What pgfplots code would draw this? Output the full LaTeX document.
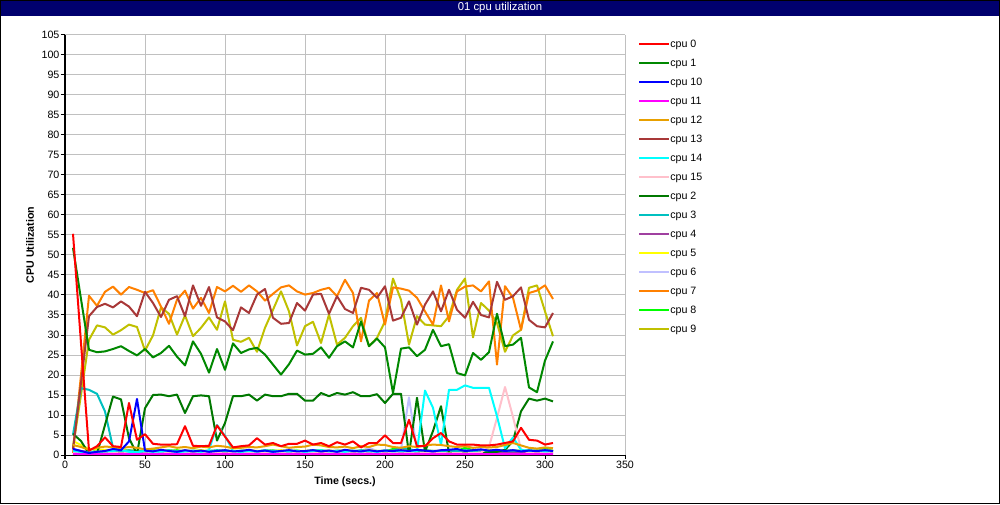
\documentclass[border=0pt]{standalone}
\usepackage{fontspec}
\setmainfont{Liberation Sans}
\usepackage{pgfplots}
\pgfplotsset{compat=1.18}
\usepackage{pgfplotstable}

\definecolor{titlebar}{RGB}{0,0,110}
\definecolor{gridgray}{RGB}{192,192,192}
\definecolor{c0}{RGB}{255,0,0}
\definecolor{c1}{RGB}{0,136,0}
\definecolor{c10}{RGB}{0,0,255}
\definecolor{c11}{RGB}{255,0,255}
\definecolor{c12}{RGB}{232,160,0}
\definecolor{c13}{RGB}{168,56,56}
\definecolor{c14}{RGB}{0,255,255}
\definecolor{c15}{RGB}{255,192,203}
\definecolor{c2}{RGB}{0,120,0}
\definecolor{c3}{RGB}{0,192,192}
\definecolor{c4}{RGB}{160,64,160}
\definecolor{c5}{RGB}{255,255,0}
\definecolor{c6}{RGB}{192,192,255}
\definecolor{c7}{RGB}{255,128,0}
\definecolor{c8}{RGB}{0,255,0}
\definecolor{c9}{RGB}{192,192,0}

% sampled every 5 s, one column per cpu
\pgfplotstableread{
t   c0   c1   c10  c11 c12 c13  c14  c15 c2   c3   c4  c5  c6   c7   c8  c9
5   55.3 51.8 1.5  0.3 2.5 1.5  1.0  0.5 5.3  5.1  1.5 3.5 1.2  0.5  1.0 2.0
10  28   39   1.0  0.2 2.0 18   0.8  0.4 3.5  16.7 1.0 2.5 1.0  20   0.8 15
15  1.1  26.3 0.5  0.2 1.3 34.7 0.6  0.3 0.3  16.3 0.7 1.5 0.8  39.8 0.5 28.8
20  2.2  25.7 0.8  0.2 1.8 37   0.8  0.3 0.3  15.3 0.6 1.4 0.9  37.3 1.2 32.4
25  4.4  25.9 1.0  0.2 2.1 37.8 0.9  0.4 7.5  10.9 0.7 1.3 1.0  40.8 0.9 31.9
30  2.2  26.5 1.5  0.2 2.0 36.9 1.0  0.5 14.6 1.8  0.8 1.2 1.1  42.1 1.0 30.1
35  2.0  27.2 1.2  0.2 1.7 38.4 1.2  0.4 13.9 1.0  0.7 1.3 0.9  40.1 0.8 31.2
40  13   26   3.4  0.2 2.0 37.1 0.8  0.5 4.2  1.2  0.6 1.2 1.0  42   1.1 32.6
45  3.8  24.9 14   0.2 1.8 34.7 0.7  0.3 0.2  0.9  0.8 1.1 1.2  41.3 0.9 32
50  5.2  26.5 1.1  0.2 1.4 40.8 1.0  0.4 11.7 1.1  0.7 1.0 1.0  40.5 1.0 26.1
55  2.8  24.4 0.9  0.2 1.6 38   0.8  0.5 15   1.0  0.6 1.1 0.9  41.2 1.3 29.9
60  2.6  25.5 1.3  0.2 1.9 34.5 0.9  0.4 15.1 0.8  0.7 1.0 1.1  37.1 0.8 36.9
65  2.6  27.3 1.0  0.2 2.2 38.8 1.1  0.5 14.7 1.2  0.8 1.2 1.0  32.8 1.0 35.3
70  2.7  24.6 0.8  0.2 1.8 39.7 0.7  0.4 15.1 1.0  0.6 1.0 0.9  38.8 1.2 30.1
75  7.2  22.4 1.2  0.2 2.0 34.7 0.9  0.5 10.5 0.9  0.7 1.1 1.2  41.1 0.9 34.9
80  2.3  28.4 0.9  0.2 1.7 42.4 1.0  0.4 14.7 1.1  0.8 1.0 1.0  36.6 1.0 29.7
85  2.2  25.3 1.1  0.2 2.1 37.3 0.8  0.5 14.9 0.9  0.6 1.2 0.9  39.3 1.1 31.8
90  2.3  20.6 0.8  0.2 1.9 42   1.2  0.4 14.7 1.0  0.7 1.0 1.1  35.5 0.8 34.4
95  7.4  26.5 1.0  0.2 2.3 34.4 7.5  0.5 3.6  1.2  0.8 1.1 1.0  42   1.0 31.3
100 4.6  21.3 1.2  0.2 2.1 33.4 4.8  0.4 8.0  1.0  0.7 1.0 1.2  40.9 1.2 38.4
105 1.9  27.9 0.9  0.2 1.7 31.2 1.0  0.5 14.7 0.9  0.6 1.1 0.9  42.3 0.9 28.8
110 2.2  25.5 1.0  0.2 1.8 36.9 0.8  0.4 14.7 1.1  0.7 1.0 1.0  40.8 1.0 28.3
115 2.4  26.4 1.3  0.2 2.0 35.5 1.0  0.5 15.1 1.0  0.8 1.2 1.1  42.4 1.1 29.3
120 4.2  26.8 0.9  0.2 1.9 40.1 0.9  0.4 13.6 0.9  0.7 1.0 1.0  40.9 0.9 25.8
125 2.6  25.1 1.1  0.2 2.2 41.5 1.1  0.5 15.1 1.2  0.6 1.1 0.9  38.6 1.0 31.8
130 3.0  22.6 0.8  0.2 2.6 34.3 0.8  0.4 14.7 1.0  0.7 1.0 1.1  40.3 1.2 36.3
135 2.2  20.1 1.0  0.2 2.2 32.8 1.0  0.5 14.7 0.9  0.8 1.2 1.0  41.9 0.9 40.9
140 2.8  22.7 1.2  0.2 1.8 33   0.9  0.4 15.3 1.1  0.7 1.0 1.2  42.4 1.0 35.9
145 2.8  26.1 0.9  0.2 2.0 38   1.1  0.5 15.3 1.0  0.6 1.1 0.9  40.9 1.1 27.4
150 3.6  25.1 1.0  0.2 2.1 36.1 0.8  0.4 13.6 0.9  0.7 1.0 1.0  40.1 0.8 32.2
155 2.6  25.3 1.2  0.2 2.6 40.1 1.0  0.5 13.6 1.2  0.8 1.2 1.1  40.5 1.0 33.3
160 3.0  26.9 0.9  0.2 2.4 40.3 1.2  0.4 15.5 1.0  0.7 1.0 1.0  41.3 1.2 28
165 2.2  24.3 1.1  0.2 2.0 35.3 0.9  0.5 14.7 0.9  0.6 1.1 1.2  41.8 0.9 35.1
170 3.2  27.2 0.8  0.2 1.9 39.7 1.0  0.4 15.5 1.1  0.7 1.0 0.9  39.7 1.0 27.6
175 2.6  28.4 1.3  0.2 2.1 36.5 0.8  0.5 15.1 1.0  0.8 1.2 1.0  43.8 1.1 29.3
180 3.4  26.9 1.0  0.2 1.7 35.5 1.1  0.4 15.7 0.9  0.7 1.0 1.1  40.5 1.0 32.2
185 1.9  33.4 0.9  0.2 2.2 41.8 0.9  0.5 14.7 1.2  0.6 1.1 1.0  28.4 0.8 34.3
190 3.0  27.2 1.2  0.2 2.0 41.3 1.0  0.4 14.7 1.0  0.7 1.2 1.8  38.6 1.2 27.2
195 3.0  29.1 0.9  0.2 2.6 39.3 0.8  0.5 15.2 0.9  0.8 1.0 1.0  40.5 1.0 29.3
200 4.9  26.9 1.1  0.2 2.5 42.2 1.1  0.4 13   1.1  0.7 1.1 1.1  32.6 0.9 33.4
205 3.0  15.5 1.0  0.2 2.0 33.6 0.9  0.5 15.3 1.0  0.6 1.0 1.0  41.9 1.5 44.1
210 3.0  26.6 1.2  0.2 1.8 34.3 1.0  0.4 15.3 1.8  0.7 1.2 1.2  41.6 1.8 38.8
215 8.8  26.9 1.0  0.2 2.2 38.4 1.0  0.5 0.2  1.5  0.8 1.1 14.4 41.1 1.2 27.6
220 2.2  24.7 1.3  0.2 2.0 32.6 1.0  0.4 14.3 1.0  0.7 1.0 1.2  39.3 1.0 34.7
225 2.2  26.3 1.1  0.2 2.4 37.6 16.1 0.5 0.8  1.2  0.6 1.2 1.0  35.9 1.1 32.6
230 4.2  31.3 0.9  0.2 2.6 40.9 11.8 0.4 6    1.0  0.7 1.0 1.1  32.6 0.9 32.4
235 5.5  27.2 1.2  0.2 2.5 35.9 2.5  0.5 12.2 0.9  0.8 1.1 1.0  42.4 1.0 32.2
240 3.4  27.7 1.3  0.2 2.2 41.3 16.3 0.4 0.5  1.1  0.7 1.0 0.9  33.4 1.2 34.7
245 2.6  20.5 1.5  0.2 2.0 36.3 16.3 0.5 0.5  1.0  0.6 1.2 1.0  40.9 1.0 41.3
250 2.6  19.9 1.0  0.2 2.2 34.3 17.4 0.4 0.5  1.2  0.7 1.0 1.1  42.1 1.8 44.1
255 2.6  25.5 1.2  0.2 1.8 38.3 16.8 0.5 0.5  1.0  0.8 1.1 1.0  42.4 1.2 29.4
260 2.4  23.8 1.4  0.2 2.0 35   16.8 0.6 0.5  1.1  0.7 1.0 1.2  40.9 1.0 38
265 2.4  25.7 1.1  0.2 1.9 34.4 16.8 2.0 0.7  1.0  0.6 1.2 1.0  43.4 1.1 36.1
270 2.6  35.3 1.3  0.2 2.0 43.3 9.7  9.3 0.8  1.2  0.7 1.0 1.1  22.6 0.9 33
275 3.0  27.2 1.0  0.2 2.5 38.8 1.7  17  1.3  1.0  0.8 1.1 1.0  42.2 1.0 25.8
280 3.4  27.6 1.2  0.2 3.0 39.7 4.4  9.5 3.5  1.1  0.7 1.0 1.2  39.3 1.2 29.9
285 6.8  29.3 0.9  0.2 2.4 41.9 1.3  1.5 10.9 1.0  0.6 1.1 1.0  31.3 1.0 31.3
290 3.8  16.9 1.1  0.2 1.8 33.8 1.0  0.5 14.1 1.2  0.7 1.0 1.1  40.5 0.9 41.8
295 3.6  15.7 1.0  0.2 1.6 32.2 1.1  0.4 13.6 1.0  0.8 1.2 1.0  41.1 1.0 42.4
300 2.6  23.6 1.2  0.2 1.9 31.9 0.9  0.5 14.1 1.1  0.7 1.0 1.2  42.4 1.7 35.9
305 3.0  28.4 1.0  0.2 1.7 35.5 1.0  0.4 13.4 1.0  0.6 1.1 1.0  39   1.0 29.7
}\cpudata

\begin{document}
\begin{tikzpicture}
\useasboundingbox (0,0) rectangle (750pt,378pt);
\fill[titlebar] (0,366pt) rectangle (750pt,378pt);
\node[white, font=\fontsize{8.5}{10}\selectfont] at (375pt,372pt) {01 cpu utilization};
\draw[black, line width=0.75pt] (0.375pt,0.375pt) rectangle (749.625pt,377.625pt);
\begin{axis}[
    at={(48.75pt,36.75pt)}, anchor=south west,
    scale only axis, width=420pt, height=315pt,
    xmin=0, xmax=350, ymin=0, ymax=105,
    xtick={0,50,...,350}, ytick={0,5,...,105},
    axis x line*=bottom, axis y line*=left,
    axis line style={black, line width=0.75pt},
    tick align=outside, major tick length=3pt,
    tick style={black, line width=0.75pt},
    grid=major, grid style={gridgray, line width=0.75pt},
    /pgf/number format/assume math mode=true,
    ticklabel style={font=\fontsize{8}{9.6}\selectfont, inner sep=1pt},
    xlabel={Time (secs.)}, ylabel={CPU Utilization},
    label style={font=\bfseries\fontsize{8}{9.6}\selectfont},
    xlabel style={at={(axis description cs:0.5,-0.0643)}, anchor=center},
    ylabel style={at={(axis description cs:-0.0625,0.5)}, anchor=center},
    no markers,
    every axis plot post/.append style={line width=1.5pt, line join=round},
    reverse legend,
    legend cell align=left,
    legend image code/.code={\draw[#1] (0pt,0pt) -- (22.5pt,0pt);},
    legend style={at={(1,1)}, anchor=north west, xshift=9.75pt, yshift=-3pt,
        draw=none, fill=none, inner sep=0pt,
        font=\fontsize{8}{9.6}\selectfont, row sep=6.75pt,
        nodes={inner sep=0pt, text height=6pt, text depth=1.5pt},
        /tikz/every even column/.append style={column sep=2.5pt}},
]
\addplot[c9]  table[x=t, y=c9]  {\cpudata}; \addlegendentry{cpu 9}
\addplot[c8]  table[x=t, y=c8]  {\cpudata}; \addlegendentry{cpu 8}
\addplot[c7]  table[x=t, y=c7]  {\cpudata}; \addlegendentry{cpu 7}
\addplot[c6]  table[x=t, y=c6]  {\cpudata}; \addlegendentry{cpu 6}
\addplot[c5]  table[x=t, y=c5]  {\cpudata}; \addlegendentry{cpu 5}
\addplot[c4]  table[x=t, y=c4]  {\cpudata}; \addlegendentry{cpu 4}
\addplot[c3]  table[x=t, y=c3]  {\cpudata}; \addlegendentry{cpu 3}
\addplot[c2]  table[x=t, y=c2]  {\cpudata}; \addlegendentry{cpu 2}
\addplot[c15] table[x=t, y=c15] {\cpudata}; \addlegendentry{cpu 15}
\addplot[c14] table[x=t, y=c14] {\cpudata}; \addlegendentry{cpu 14}
\addplot[c13] table[x=t, y=c13] {\cpudata}; \addlegendentry{cpu 13}
\addplot[c12] table[x=t, y=c12] {\cpudata}; \addlegendentry{cpu 12}
\addplot[c11] table[x=t, y=c11] {\cpudata}; \addlegendentry{cpu 11}
\addplot[c10] table[x=t, y=c10] {\cpudata}; \addlegendentry{cpu 10}
\addplot[c1]  table[x=t, y=c1]  {\cpudata}; \addlegendentry{cpu 1}
\addplot[c0]  table[x=t, y=c0]  {\cpudata}; \addlegendentry{cpu 0}
\end{axis}
\end{tikzpicture}
\end{document}
